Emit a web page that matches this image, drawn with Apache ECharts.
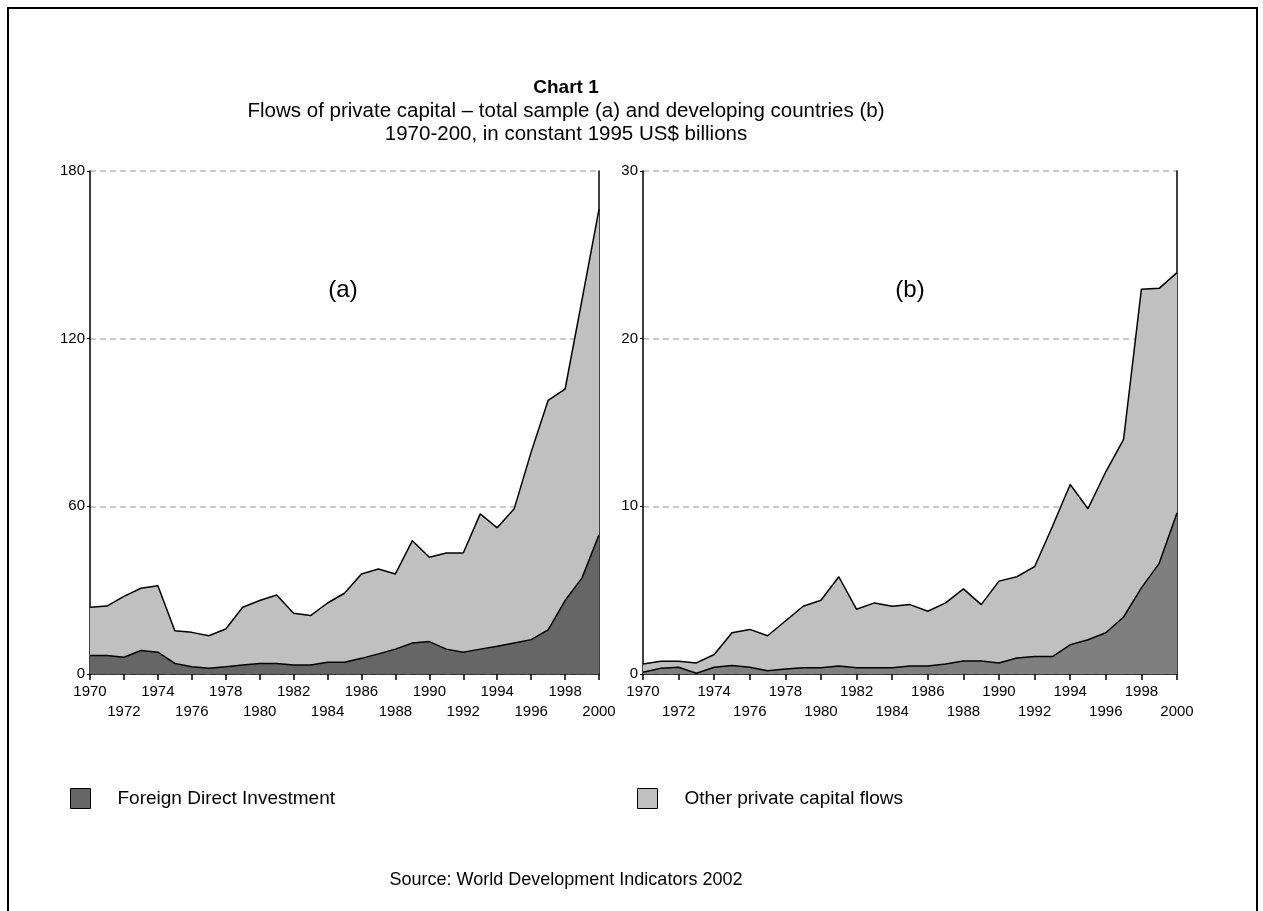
<!DOCTYPE html>
<html><head><meta charset="utf-8">
<script src="https://cdn.jsdelivr.net/npm/echarts@6/dist/echarts.min.js"></script>
<style>html,body{margin:0;padding:0;background:#fff}#c{width:1263px;height:911px}</style>
</head><body><div id="c"></div>
<script>
const years = ['1970','1971','1972','1973','1974','1975','1976','1977','1978','1979','1980','1981','1982','1983','1984','1985','1986','1987','1988','1989','1990','1991','1992','1993','1994','1995','1996','1997','1998','1999','2000'];
// Panel (a): total sample, constant 1995 US$ billions
const totalA = [23.9,24.3,27.8,30.7,31.6,15.5,14.9,13.7,16.1,23.9,26.3,28.3,21.7,20.9,25.4,28.9,35.8,37.6,35.8,47.7,41.8,43.3,43.3,57.3,52.3,59.1,79.4,97.9,101.9,134,166.3];
const fdiA   = [6.6,6.6,6.0,8.4,7.8,3.8,2.6,2.1,2.6,3.2,3.8,3.8,3.2,3.2,4.2,4.2,5.6,7.2,8.9,11.1,11.6,8.9,7.8,8.9,9.9,11.1,12.3,15.8,26.3,34.4,49.8];
// Panel (b): developing countries
const totalB = [0.6,0.76,0.76,0.66,1.16,2.46,2.66,2.28,3.16,4.04,4.4,5.8,3.86,4.24,4.04,4.14,3.74,4.24,5.08,4.14,5.54,5.8,6.4,8.8,11.3,9.86,12.06,14.0,22.95,23.0,23.94];
const fdiB   = [0.1,0.34,0.4,0.04,0.4,0.5,0.4,0.2,0.3,0.38,0.38,0.48,0.38,0.38,0.38,0.48,0.48,0.6,0.78,0.78,0.66,0.96,1.04,1.04,1.74,2.04,2.46,3.4,5.14,6.6,9.6];
const yAxisA = {min:0, max:180, interval:60};
const yAxisB = {min:0, max:30, interval:10};
const seriesNames = ['Foreign Direct Investment','Other private capital flows'];
const panelLabels = ['(a)','(b)'];
const titleLines = ['Chart 1','Flows of private capital \u2013 total sample (a) and developing countries (b)','1970-200, in constant 1995 US$ billions'];
const sourceText = 'Source: World Development Indicators 2002';

const FONT = '"Liberation Sans", Arial, Helvetica, sans-serif';
const chart = echarts.init(document.getElementById('c'), null, {renderer:'canvas'});

function xAx(i){
  return {type:'category', gridIndex:i, data:years, boundaryGap:false,
    axisLine:{lineStyle:{color:'#000', width:1.5}},
    axisTick:{interval:1, length:6, lineStyle:{color:'#000', width:1.5}},
    axisLabel:{interval:1, color:'#000', fontSize:15, fontFamily:FONT, margin:8, lineHeight:20,
      formatter:(v,idx)=> (idx%4===2 ? '\n'+v : v)},
    splitLine:{show:false}};
}
function yAx(i, cfg){
  return {type:'value', gridIndex:i, min:cfg.min, max:cfg.max, interval:cfg.interval,
    axisLine:{show:true, lineStyle:{color:'#000', width:1.5}},
    axisTick:{show:true, length:3, lineStyle:{color:'#000', width:1}},
    axisLabel:{color:'#000', fontSize:15, fontFamily:FONT, margin:5},
    splitLine:{show:true, lineStyle:{color:'#b8b8b8', type:[6,4], width:1.5}}};
}
function yRight(i, cfg){
  return {type:'value', gridIndex:i, position:'right', min:cfg.min, max:cfg.max, interval:cfg.interval,
    axisLine:{show:true, lineStyle:{color:'#000', width:1.5}},
    axisTick:{show:false}, axisLabel:{show:false}, splitLine:{show:false}};
}
function area(name, xi, yi, data, fill, z){
  return {type:'line', name:name, xAxisIndex:xi, yAxisIndex:yi, data:data, symbol:'none',
    lineStyle:{color:'#000', width:1.5}, itemStyle:{color:fill},
    areaStyle:{color:fill, opacity:1}, z:z, silent:true};
}

const option = {
  animation:false,
  backgroundColor:'#fff',
  grid:[
    {left:90, right:664, top:171, bottom:237},
    {left:643, right:86, top:171, bottom:237}
  ],
  xAxis:[xAx(0), xAx(1)],
  yAxis:[yAx(0,yAxisA), yAx(1,yAxisB), yRight(0,yAxisA), yRight(1,yAxisB)],
  legend:[
    {data:[{name:seriesNames[0], icon:'rect', itemStyle:{color:'#666666', borderColor:'#000', borderWidth:1}}],
     left:65, top:783, itemWidth:20, itemHeight:20, selectedMode:false,
     textStyle:{color:'#000', fontSize:19, fontFamily:FONT, padding:[0,0,0,22]}},
    {data:[{name:seriesNames[1], icon:'rect', itemStyle:{color:'#c0c0c0', borderColor:'#000', borderWidth:1}}],
     left:632, top:783, itemWidth:20, itemHeight:20, selectedMode:false,
     textStyle:{color:'#000', fontSize:19, fontFamily:FONT, padding:[0,0,0,22]}}
  ],
  series:[
    area(seriesNames[1], 0, 0, totalA, '#c0c0c0', 2),
    area(seriesNames[0], 0, 0, fdiA, '#666666', 3),
    area(seriesNames[1], 1, 1, totalB, '#c0c0c0', 2),
    area(seriesNames[0], 1, 1, fdiB, '#7f7f7f', 3)
  ],
  graphic:[
    {type:'rect', shape:{x:8, y:8, width:1249, height:930}, style:{fill:'none', stroke:'#000', lineWidth:2}, silent:true},
    {type:'text', x:566, y:88, style:{text:titleLines[0], fill:'#000', font:'bold 19px '+FONT, textAlign:'center', textVerticalAlign:'middle'}},
    {type:'text', x:566, y:111, style:{text:titleLines[1], fill:'#000', font:'20.5px '+FONT, textAlign:'center', textVerticalAlign:'middle'}},
    {type:'text', x:566, y:134, style:{text:titleLines[2], fill:'#000', font:'20.5px '+FONT, textAlign:'center', textVerticalAlign:'middle'}},
    {type:'text', x:343, y:290, style:{text:panelLabels[0], fill:'#000', font:'24px '+FONT, textAlign:'center', textVerticalAlign:'middle'}},
    {type:'text', x:910, y:290, style:{text:panelLabels[1], fill:'#000', font:'24px '+FONT, textAlign:'center', textVerticalAlign:'middle'}},
    {type:'text', x:566, y:880, style:{text:sourceText, fill:'#000', font:'18px '+FONT, textAlign:'center', textVerticalAlign:'middle'}}
  ]
};
chart.setOption(option);
</script></body></html>
